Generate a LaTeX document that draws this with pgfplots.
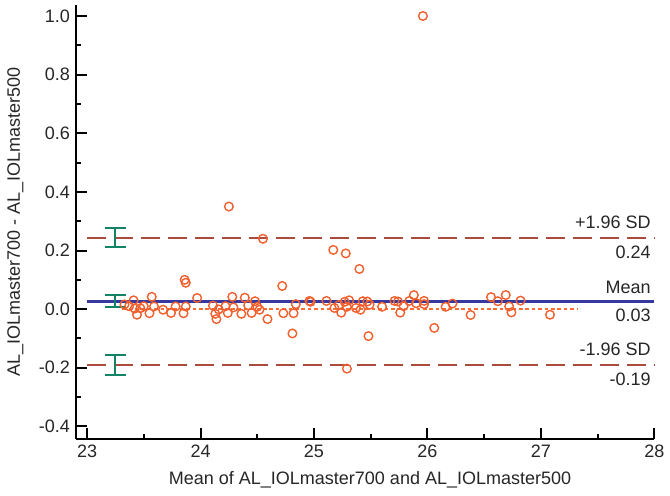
\documentclass[border=0pt]{standalone}
\usepackage{fontspec}
\setmainfont{Liberation Sans}
\usepackage{pgfplots}
\pgfplotsset{compat=1.18}
\usepackage{pgfplotstable}

\definecolor{ptorange}{RGB}{240,95,45}
\definecolor{zeroorange}{RGB}{248,110,50}
\definecolor{limred}{RGB}{170,75,60}
\definecolor{meanblue}{RGB}{55,55,160}
\definecolor{cigreen}{RGB}{20,130,100}

% differences vs. mean of the two devices
\pgfplotstableread{
x y
23.33 0.016
23.37 0.010
23.41 0.030
23.42 0.002
23.44 -0.019
23.47 0.003
23.50 0.010
23.55 -0.014
23.57 0.042
23.59 0.009
23.67 -0.002
23.74 -0.013
23.78 0.009
23.85 -0.014
23.86 0.100
23.87 0.090
23.87 0.009
23.97 0.038
24.11 0.012
24.13 -0.016
24.14 -0.034
24.16 -0.001
24.22 0.010
24.24 -0.013
24.25 0.350
24.28 0.042
24.29 0.006
24.36 -0.016
24.39 0.039
24.42 0.013
24.45 -0.013
24.48 0.027
24.50 0.008
24.52 -0.002
24.55 0.240
24.59 -0.034
24.72 0.079
24.73 -0.014
24.81 -0.083
24.82 -0.014
24.84 0.017
24.96 0.028
24.97 0.025
25.11 0.028
25.17 0.202
25.18 0.004
25.22 0.014
25.24 -0.012
25.27 0.025
25.28 0.190
25.29 0.008
25.29 -0.203
25.31 0.030
25.37 0.004
25.40 0.137
25.41 -0.002
25.43 0.027
25.47 0.026
25.48 -0.092
25.49 0.015
25.60 0.008
25.71 0.028
25.74 0.026
25.76 -0.012
25.79 0.010
25.84 0.028
25.88 0.048
25.90 0.020
25.96 1.000
25.97 0.028
25.97 0.017
26.06 -0.064
26.16 0.008
26.22 0.019
26.38 -0.020
26.56 0.041
26.62 0.027
26.69 0.048
26.72 0.009
26.74 -0.011
26.82 0.029
27.08 -0.019
}\diffdata

\begin{document}
\fontsize{9}{11}\selectfont
\begin{tikzpicture}
\path[use as bounding box] (-38.2pt,-28.5pt) rectangle (296.8pt,219.5pt);
\begin{axis}[
    at={(0,0)}, anchor=south west,
    width=289pt, height=217pt, scale only axis,
    xmin=22.906, xmax=28,
    ymin=-0.443, ymax=1.0375,
    axis lines*=left,
    axis line style={-, line width=1pt},
    xtick={23,24,25,26,27,28},
    ytick={-0.4,-0.2,0,0.2,0.4,0.6,0.8,1.0},
    minor x tick num=1, minor y tick num=1,
    tick align=inside,
    major tick length=5.5pt, minor tick length=2.5pt,
    tick style={black, line width=1pt},
    /pgf/number format/assume math mode=true,
    ticklabel style={font=\fontsize{9}{11}\selectfont, text=black!85},
    yticklabel style={/pgf/number format/.cd, fixed, fixed zerofill, precision=1},
    xticklabel style={/pgf/number format/.cd, fixed, precision=0},
    xlabel={Mean of AL\_IOLmaster700 and AL\_IOLmaster500},
    ylabel={AL\_IOLmaster700 - AL\_IOLmaster500},
    xlabel style={at={(axis description cs:0.508,-0.0945)}, anchor=center, text=black!85},
    ylabel style={at={(axis description cs:-0.1055,0.5)}, anchor=center, text=black!85},
    clip=false,
]

% limits of agreement and mean
\addplot[limred, line width=1pt, dash pattern=on 9.5pt off 4pt] coordinates {(23,0.242) (28,0.242)};
\addplot[limred, line width=1pt, dash pattern=on 9.5pt off 4pt] coordinates {(23,-0.192) (28,-0.192)};
\addplot[zeroorange, line width=0.8pt, dash pattern=on 1.8pt off 1.4pt] coordinates {(23.31,0) (27.32,0)};
\addplot[meanblue, line width=1.3pt] coordinates {(23,0.027) (28,0.027)};

% confidence intervals (stem + caps)
\addplot[cigreen, line width=1pt] coordinates {(23.25,0.213) (23.25,0.278)};
\addplot[cigreen, line width=1pt] coordinates {(23.157,0.278) (23.343,0.278)};
\addplot[cigreen, line width=1pt] coordinates {(23.157,0.213) (23.343,0.213)};
\addplot[cigreen, line width=1pt] coordinates {(23.25,0.006) (23.25,0.048)};
\addplot[cigreen, line width=1pt] coordinates {(23.157,0.048) (23.343,0.048)};
\addplot[cigreen, line width=1pt] coordinates {(23.157,0.006) (23.343,0.006)};
\addplot[cigreen, line width=1pt] coordinates {(23.25,-0.226) (23.25,-0.156)};
\addplot[cigreen, line width=1pt] coordinates {(23.157,-0.156) (23.343,-0.156)};
\addplot[cigreen, line width=1pt] coordinates {(23.157,-0.226) (23.343,-0.226)};

% data points
\addplot[only marks, mark=o, mark size=2.15pt,
    mark options={draw=ptorange, line width=0.7pt}] table[x=x, y=y] {\diffdata};

\node[anchor=south east, inner sep=0pt, text=black!85] at (axis cs:27.97,0.242) [yshift=4.5pt] {+1.96 SD};
\node[anchor=north east, inner sep=0pt, text=black!85] at (axis cs:27.97,0.242) [yshift=-3.5pt] {0.24};
\node[anchor=south east, inner sep=0pt, text=black!85] at (axis cs:27.97,0.027) [yshift=3.5pt] {Mean};
\node[anchor=north east, inner sep=0pt, text=black!85] at (axis cs:27.97,0.027) [yshift=-3.5pt] {0.03};
\node[anchor=south east, inner sep=0pt, text=black!85] at (axis cs:27.97,-0.192) [yshift=4.5pt] {-1.96 SD};
\node[anchor=north east, inner sep=0pt, text=black!85] at (axis cs:27.97,-0.192) [yshift=-3.5pt] {-0.19};
\end{axis}
\end{tikzpicture}
\end{document}
